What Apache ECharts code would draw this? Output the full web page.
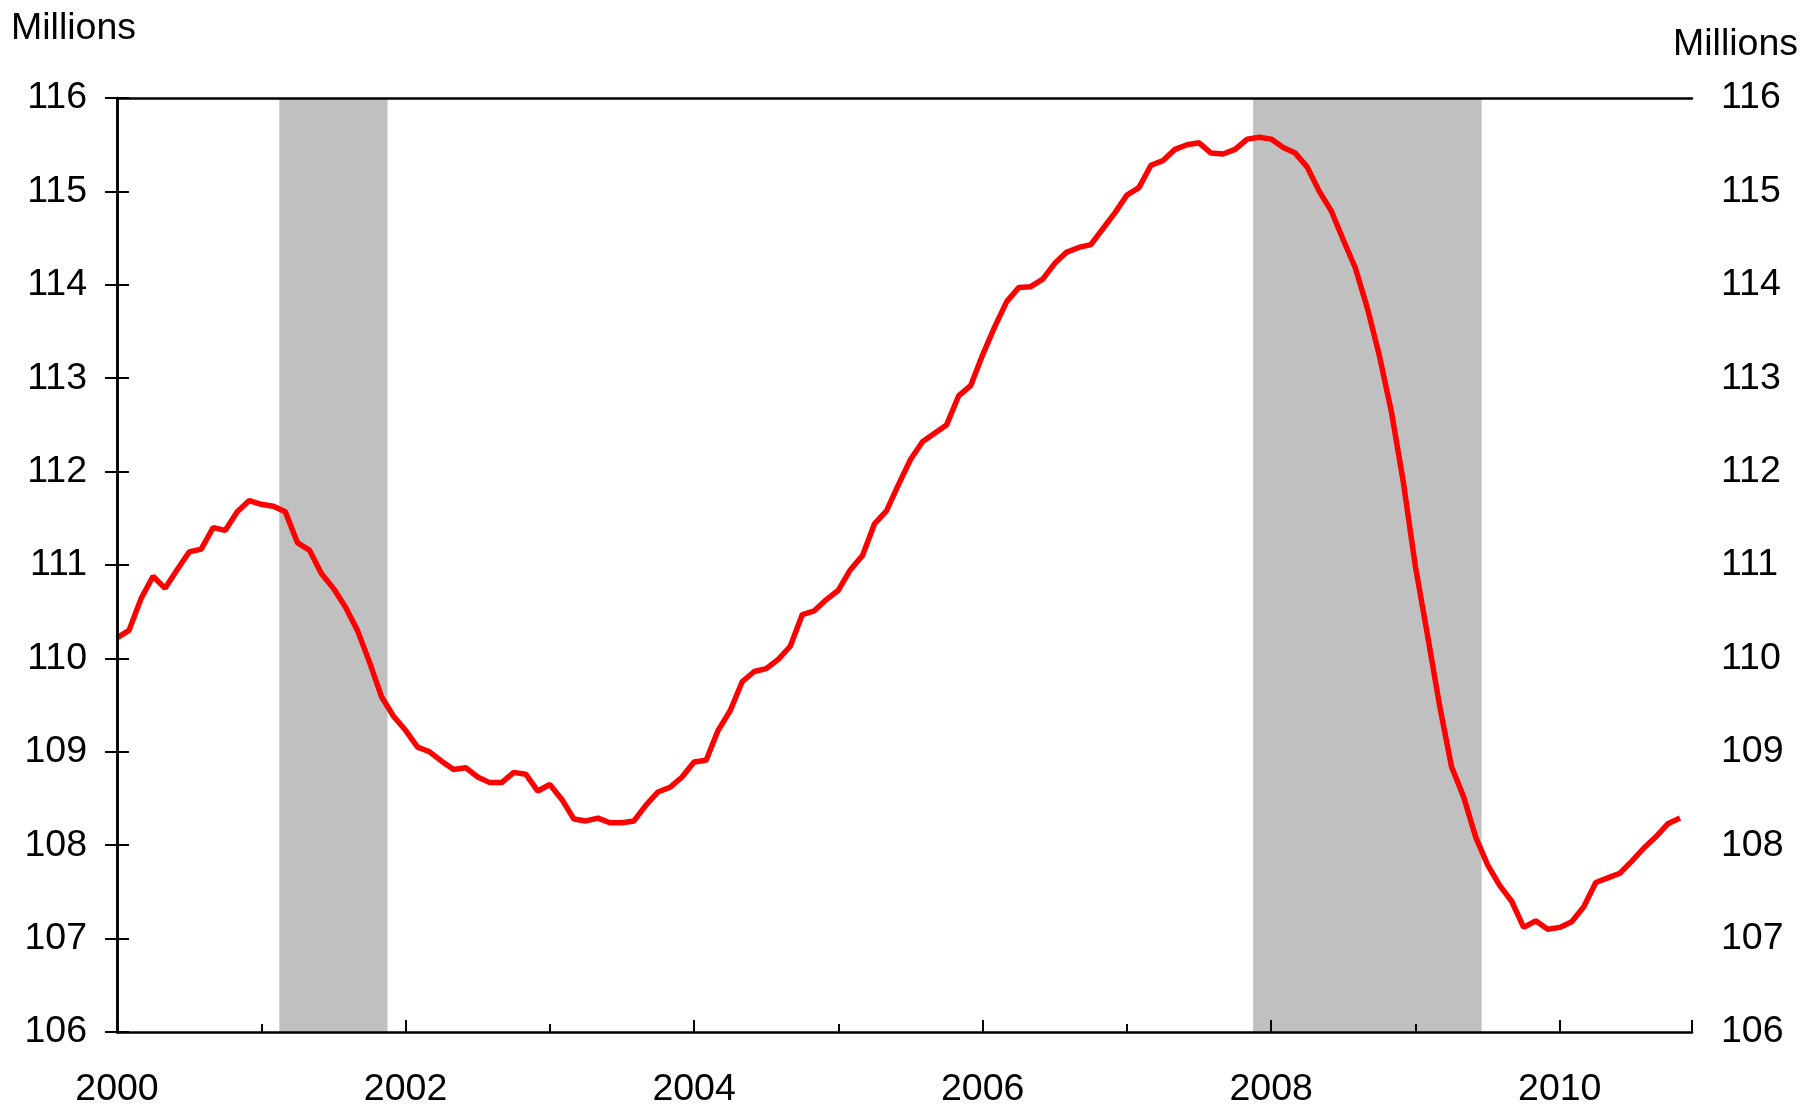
<!DOCTYPE html>
<html>
<head>
<meta charset="utf-8">
<script src="https://cdn.jsdelivr.net/npm/echarts@6/dist/echarts.min.js"></script>
<style>
html,body{margin:0;padding:0;background:#fff;}
#chart{width:1806px;height:1110px;}
</style>
</head>
<body>
<div id="chart"></div>
<script>
// Monthly values, Jan 2000 onward (millions)
const startYear = 2000;
const values = [
  110.22,110.30,110.64,110.88,110.75,110.95,111.14,111.17,111.40,111.37,111.57,111.69,
  111.65,111.63,111.57,111.24,111.16,110.91,110.75,110.55,110.30,109.96,109.59,109.38,
  109.23,109.05,109.00,108.90,108.81,108.83,108.73,108.67,108.67,108.78,108.76,108.58,
  108.65,108.49,108.28,108.26,108.29,108.24,108.24,108.26,108.43,108.57,108.62,108.73,
  108.89,108.91,109.23,109.44,109.75,109.86,109.89,109.99,110.13,110.47,110.51,110.63,
  110.73,110.95,111.10,111.44,111.58,111.86,112.13,112.32,112.41,112.50,112.81,112.92,
  113.25,113.55,113.82,113.97,113.98,114.06,114.23,114.35,114.40,114.43,114.60,114.77,
  114.96,115.04,115.28,115.33,115.45,115.50,115.52,115.41,115.40,115.45,115.56,115.58,
  115.56,115.47,115.41,115.26,115.00,114.79,114.48,114.18,113.75,113.24,112.64,111.88,
  110.98,110.25,109.50,108.84,108.52,108.09,107.79,107.57,107.40,107.12,107.19,107.10,
  107.12,107.18,107.34,107.60,107.65,107.70,107.83,107.97,108.09,108.23,108.29
];
// Recessions (first month, last month)
const recessionStarts = ['2001-03', '2007-12'];
const recessionEnds = ['2001-11', '2009-06'];
// Axis
const yTicks = [106,107,108,109,110,111,112,113,114,115,116];
const xLabelYears = [2000, 2002, 2004, 2006, 2008, 2010];
const axisEndMonth = '2010-12';

function monthIndex(s) {
  const [y, m] = s.split('-').map(Number);
  return (y - startYear) * 12 + (m - 1);
}

const lineData = values.map((v, i) => [i, v]);
const areas = recessionStarts.map((s, k) => [
  { xAxis: monthIndex(s) - 0.5 },
  { xAxis: monthIndex(recessionEnds[k]) + 0.5 }
]);

const FONT = 'Liberation Sans, Arial, sans-serif';
const FS = 37.5;
const chart = echarts.init(document.getElementById('chart'), null, { renderer: 'canvas' });

const yCommon = {
  type: 'value',
  min: yTicks[0],
  max: yTicks[yTicks.length - 1],
  interval: 1,
  splitLine: { show: false },
  axisLine: { show: true, lineStyle: { color: '#000', width: 2.5 } },
  axisTick: { show: true, inside: true, length: 12, lineStyle: { color: '#000', width: 2 } },
  z: 10
};

chart.setOption({
  animation: false,
  backgroundColor: '#fff',
  grid: { left: 117, right: 114, top: 98, bottom: 78, containLabel: false },
  xAxis: [{
    type: 'value',
    min: 0,
    max: monthIndex(axisEndMonth),
    interval: 24,
    splitLine: { show: false },
    axisLine: { show: true, onZero: false, lineStyle: { color: '#000', width: 2.5 } },
    axisTick: { show: true, inside: true, length: 12, lineStyle: { color: '#000', width: 2 } },
    minorTick: { show: true, splitNumber: 2, length: 8, lineStyle: { color: '#000', width: 2 } },
    axisLabel: {
      margin: 39,
      color: '#000',
      fontSize: FS,
      fontFamily: FONT,
      formatter: function (v) {
        const yr = startYear + v / 12;
        return (v % 12 === 0 && xLabelYears.indexOf(yr) >= 0) ? String(yr) : '';
      }
    },
    z: 10
  }, {
    type: 'value',
    position: 'top',
    min: 0,
    max: monthIndex(axisEndMonth),
    axisLine: { show: true, onZero: false, lineStyle: { color: '#000', width: 2.5 } },
    axisTick: { show: false },
    axisLabel: { show: false },
    splitLine: { show: false },
    z: 10
  }],
  yAxis: [
    Object.assign({}, yCommon, {
      position: 'left',
      axisLabel: { margin: 30, color: '#000', fontSize: FS, fontFamily: FONT, padding: [4, 0, 0, 0] }
    }),
    Object.assign({}, yCommon, {
      position: 'right',
      axisLabel: { margin: 29, color: '#000', fontSize: FS, fontFamily: FONT, padding: [4, 0, 0, 0] }
    })
  ],
  graphic: [
    { type: 'text', left: 11, top: 10, style: { text: 'Millions', font: FS + 'px ' + FONT, fill: '#000' } },
    { type: 'text', right: 8, top: 26, style: { text: 'Millions', font: FS + 'px ' + FONT, fill: '#000' } }
  ],
  series: [{
    type: 'line',
    data: [],
    z: 1,
    silent: true,
    markArea: {
      silent: true,
      itemStyle: { color: '#C0C0C0' },
      data: areas
    }
  }, {
    type: 'line',
    data: lineData,
    z: 3,
    showSymbol: false,
    symbol: 'none',
    lineStyle: { color: '#FF0000', width: 5.5 },
    smooth: false
  }]
});
</script>
</body>
</html>
